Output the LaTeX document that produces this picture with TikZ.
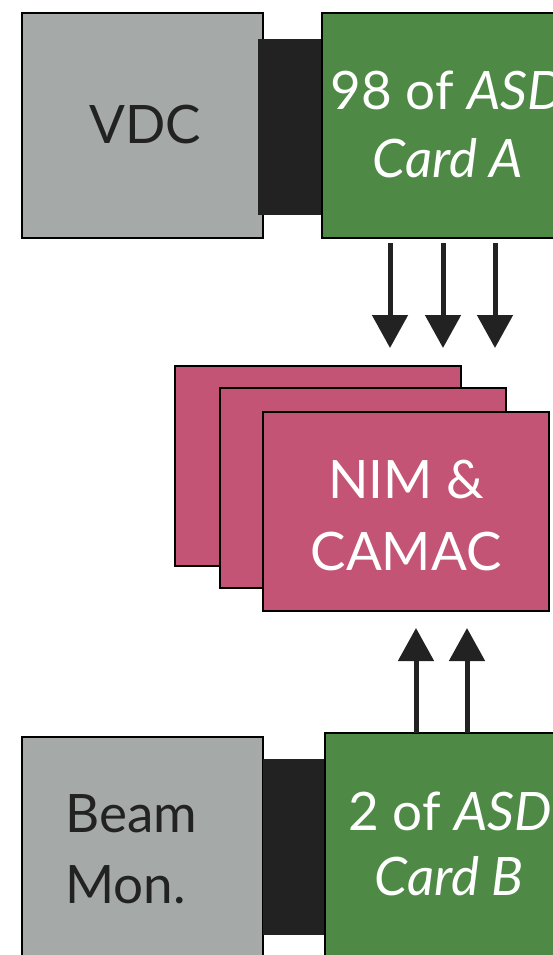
\documentclass[tikz,border=0pt]{standalone}
\usepackage{fontspec}
\setmainfont{Lato}
\usetikzlibrary{arrows.meta}
\definecolor{boxgray}{HTML}{A5A9A7}
\definecolor{boxgreen}{HTML}{4E8A45}
\definecolor{boxpink}{HTML}{C45475}
\definecolor{darkk}{HTML}{222222}
\tikzset{
  blk/.style={draw=black, line width=1.2pt, inner sep=0pt, rectangle},
  graybox/.style={blk, fill=boxgray},
  greenbox/.style={blk, fill=boxgreen},
  pinkbox/.style={blk, fill=boxpink},
  conn/.style={draw=darkk, fill=darkk, inner sep=0pt, rectangle},
  lbl/.style={inner sep=0pt, anchor=base, font=\fontsize{53}{63}\selectfont},
  arr/.style={draw=darkk, line width=5pt, -{Triangle[width=35pt,length=33pt]}}
}
\begin{document}
\begin{tikzpicture}[x=1pt,y=-1pt]
\useasboundingbox (0,0) rectangle (553,955);
\clip (0,0) rectangle (553,955);
% top row
\node[graybox, minimum width=241pt, minimum height=225pt] (vdc) at (142.5,125.5) {};
\node[conn, minimum width=64pt, minimum height=175pt] (conA) at (290,126.5) {};
\node[greenbox, minimum width=258pt, minimum height=225pt] (cardA) at (451,125.5) {};
\node[lbl, text=darkk] (tvdc) at (145,143) {VDC};
\node[lbl, text=white] (tA1) at (448,110) {98 of \textit{ASD}};
\node[lbl, text=white] (tA2) at (448,177) {\textit{Card A}};
% NIM stack
\node[pinkbox, minimum width=286pt, minimum height=200pt] (nim1) at (318,466) {};
\node[pinkbox, minimum width=286pt, minimum height=200pt] (nim2) at (363,488) {};
\node[pinkbox, minimum width=286pt, minimum height=199pt] (nim3) at (406,511.5) {};
\node[lbl, text=white] (tn1) at (406,498) {NIM \&};
\node[lbl, text=white] (tn2) at (406,570) {CAMAC};
% bottom row
\node[graybox, minimum width=241pt, minimum height=243pt] (beam) at (142.5,858.5) {};
\node[conn, minimum width=62pt, minimum height=175pt] (conB) at (294,846.5) {};
\node[greenbox, minimum width=255pt, minimum height=247pt] (cardB) at (452.5,856.5) {};
\node[lbl, text=darkk, anchor=base west] (tb1) at (65,832) {Beam};
\node[lbl, text=darkk, anchor=base west] (tb2) at (65,903) {Mon.};
\node[lbl, text=white] (tB1) at (450,830) {2 of \textit{ASD}};
\node[lbl, text=white] (tB2) at (449,895) {\textit{Card B}};
% arrows
\coordinate (d1s) at (390,243); \coordinate (d1e) at (390,348);
\coordinate (d2s) at (443,243); \coordinate (d2e) at (443,348);
\coordinate (d3s) at (495,243); \coordinate (d3e) at (495,348);
\draw[arr] (d1s) -- (d1e);
\draw[arr] (d2s) -- (d2e);
\draw[arr] (d3s) -- (d3e);
\coordinate (u1s) at (416,733); \coordinate (u1e) at (416,628);
\coordinate (u2s) at (467,733); \coordinate (u2e) at (467,628);
\draw[arr] (u1s) -- (u1e);
\draw[arr] (u2s) -- (u2e);
\end{tikzpicture}
\end{document}
